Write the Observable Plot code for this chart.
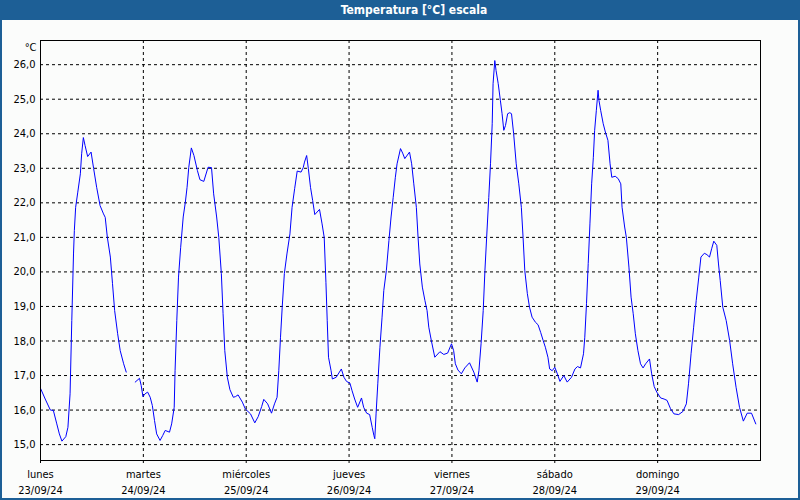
<!DOCTYPE html>
<html>
<head>
<meta charset="utf-8">
<script src="https://cdn.jsdelivr.net/npm/d3@7"></script>
<script src="https://cdn.jsdelivr.net/npm/@observablehq/plot@0.6"></script>
<style>
  html, body { margin: 0; padding: 0; background: #fbfcfb; }
  #wrap { position: relative; width: 800px; height: 500px; background: #fbfcfb; overflow: hidden; }
  #title { position: absolute; left: 0; top: 0; width: 800px; height: 20px; background: #1d5f96; color: #fff;
           font: bold 12px "DejaVu Sans Condensed", "Liberation Sans", sans-serif; line-height: 20px; text-align: center;
           box-sizing: border-box; padding-left: 28px; }
  #chart { position: absolute; left: 0; top: 20px; }
  .b { position: absolute; background: #1d5f96; }
</style>
</head>
<body>
<div id="wrap">
  <div id="title">Temperatura [°C] escala</div>
  <div id="chart"></div>
  <div class="b" style="left:0;top:20px;width:2px;height:480px"></div>
  <div class="b" style="right:0;top:20px;width:2px;height:480px"></div>
  <div class="b" style="left:0;bottom:0;width:800px;height:2px"></div>
</div>
<script>
// Hours since Monday 23/09/24 00:00
const hours = [
  0, 1.1, 2.3, 3, 3.8, 4.4, 5, 5.9, 6.4, 6.9, 7.3, 7.7, 7.9, 8.2, 8.7, 9.3, 9.6, 10.0, 10.4, 11, 11.8, 12.4, 13.1, 13.9,
  14.7, 15.1, 15.6, 16.3, 16.8, 17.3, 18, 18.6, 19.4, 20, 21, 22.1, 23.1, 23.5, 23.9,
  24.4, 25.0, 25.6, 26.1, 26.6, 27.1, 27.9, 28.5, 29.1, 30.1, 30.6, 31.2, 31.4, 31.8, 32.2, 32.7, 33.3, 33.8, 34.2,
  34.6, 35.2, 35.8, 36.6, 37.2, 38.1, 39.1, 39.9, 40.4, 41.1, 41.6, 42.2, 42.6, 43.0, 43.6, 44.2, 45, 45.5, 46.1, 47.1, 47.8,
  49, 50, 50.8, 51.6, 52.1, 53.0, 53.9, 54.6, 55.2, 55.6, 56, 56.4, 56.9, 57.5, 58.2, 58.7, 59.3, 59.9, 60.8, 61.3, 61.6,
  62.1, 62.5, 63, 63.5, 64.0, 65.1, 65.7, 66.2, 66.6, 66.9, 67.2, 67.8, 68.1, 69, 70.2, 70.8, 71.4,
  72.2, 72.7, 73.3, 74.0, 74.9, 75.4, 76.1, 76.8, 77.4, 77.8, 78.0, 78.3, 78.7, 79.2, 79.7, 80.1, 80.7, 81.3, 81.8, 82.3,
  82.8, 83.2, 84, 84.5, 85, 86.1, 86.6, 87.1, 87.7, 88.1, 88.5, 89.1, 89.7, 90.2, 90.6, 91.2, 92, 93.2, 94.1, 95, 95.9,
  96.4, 96.8, 97.4, 98.2, 99, 100.1, 101.1, 101.9, 102.3, 102.8, 103.3, 103.7, 104.1, 104.6, 105, 105.4, 105.6, 106,
  106.3, 106.8, 107.3, 107.7, 108.1, 108.5, 109, 109.5, 109.9, 110.4, 111, 111.6, 112.2, 112.6, 113, 113.6, 114.1, 114.7,
  115.5, 116.1, 116.7, 117.3, 117.8, 118.4, 118.8, 119.4,
  120, 120.6, 121.2, 122.1, 122.9, 123.9, 124.7, 125.3, 126, 126.7, 127, 127.4, 127.8, 128.2, 128.6, 129, 129.3, 129.7,
  130.1, 130.3, 130.7, 131.3, 131.8, 132.4, 132.9, 133.3, 134.1, 134.8, 135.4, 135.7, 136.3, 136.7, 137.3, 137.8, 138.3,
  138.8, 139.4, 140, 140.6, 141.2, 142.1, 142.6, 143.2, 143.8,
  144.7, 145.5, 146.2, 147, 147.8, 148.9, 149.9, 150.7, 151.2, 151.8, 152.4, 153, 153.6, 154.1, 154.9, 155.5, 156.1,
  156.6, 157.1, 157.8, 158.2, 158.6, 159.2, 160, 160.8, 161.5, 162.3, 163.1, 164, 164.9, 165.9, 166.9
];
const temps = [
  16.63, 16.32, 16.0, 15.99, 15.60, 15.31, 15.10, 15.23, 15.50, 16.47, 18.59, 20.52, 21.2, 21.87, 22.31, 22.84, 23.42, 23.89, 23.66, 23.34, 23.47, 22.99, 22.45, 21.92,
  21.68, 21.58, 21.0, 20.43, 19.66, 18.88, 18.21, 17.72, 17.34, 17.10, null, 16.81, 16.92, 16.71, 16.39,
  16.47, 16.52, 16.37, 16.13, 15.70, 15.31, 15.12, 15.26, 15.41, 15.36, 15.60, 16.08, 17.14, 18.59, 19.85, 20.7, 21.59, 22.02, 22.45,
  23.03, 23.59, 23.37, 22.94, 22.67, 22.62, 23.03, 23.02, 22.26, 21.59, 21.0, 19.95, 18.79, 17.72, 16.95, 16.59, 16.37, 16.39, 16.44, 16.23, 16.03,
  15.89, 15.63, 15.81, 16.10, 16.31, 16.18, 15.91, 16.18, 16.37, 17.14, 18.11, 18.98, 19.95, 20.52, 21.10, 21.87, 22.41, 22.92, 22.89, 23.02, 23.18,
  23.37, 22.99, 22.45, 22.07, 21.66, 21.81, 21.39, 21.0, 19.7, 18.6, 17.53, 17.14, 16.90, 16.95, 17.19, 16.95, 16.83,
  16.78, 16.56, 16.32, 16.08, 16.35, 16.08, 15.91, 15.87, 15.50, 15.26, 15.17, 15.89, 16.76, 17.82, 18.69, 19.46, 20.04, 20.91, 21.59, 22.16,
  22.74, 23.13, 23.57, 23.44, 23.28, 23.47, 23.13, 22.55, 21.87, 21.0, 20.23, 19.56, 19.17, 18.88, 18.40, 18.01, 17.53, 17.69, 17.61, 17.65, 17.92,
  17.72, 17.34, 17.16, 17.05, 17.22, 17.37, 17.10, 16.81, 17.14, 17.92, 18.88, 20.04, 21.0, 22.16, 23.13, 24.29, 25.45, 26.12,
  25.83, 25.45, 24.97, 24.58, 24.10, 24.24, 24.58, 24.61, 24.58, 24.0, 23.13, 22.55, 21.87, 21.0, 20.04, 19.37, 18.98, 18.69,
  18.54, 18.47, 18.25, 18.01, 17.82, 17.53, 17.19, 17.14,
  17.24, 17.05, 16.83, 17.0, 16.81, 16.95, 17.19, 17.26, 17.22, 17.63, 18.11, 19.08, 20.24, 21.39, 22.55, 23.32, 24.10, 24.68,
  25.26, 24.97, 24.68, 24.29, 24.05, 23.81, 23.13, 22.74, 22.77, 22.70, 22.55, 21.87, 21.30, 21.0, 20.14, 19.27, 18.79,
  18.21, 17.72, 17.34, 17.22, 17.34, 17.48, 17.05, 16.68, 16.52,
  16.35, 16.32, 16.28, 16.04, 15.89, 15.87, 15.96, 16.18, 16.76, 17.63, 18.40, 19.17, 19.85, 20.43, 20.54, 20.50, 20.43,
  20.67, 20.89, 20.77, 20.23, 19.75, 18.98, 18.59, 18.01, 17.34, 16.66, 16.08, 15.68, 15.91, 15.91, 15.60
];
const dayNames = ["lunes", "martes", "miércoles", "jueves", "viernes", "sábado", "domingo"];
const dayDates = ["23/09/24", "24/09/24", "25/09/24", "26/09/24", "27/09/24", "28/09/24", "29/09/24"];
const dayTicks = [0, 24, 48, 72, 96, 120, 144];
const yTicks = [15, 16, 17, 18, 19, 20, 21, 22, 23, 24, 25, 26];

const data = hours.map((h, i) => ({h, t: temps[i]}));
const font = '"DejaVu Sans Condensed", "Liberation Sans", sans-serif';

const chart = Plot.plot({
  width: 800,
  height: 480,
  marginLeft: 40,
  marginRight: 40,
  marginTop: 20,
  marginBottom: 40,
  style: {fontFamily: font, fontSize: "11px", color: "#000", background: "transparent", overflow: "visible"},
  x: {domain: [0, 168], label: null},
  y: {domain: [14.54, 26.70], label: null},
  marks: [
    Plot.ruleY(yTicks, {stroke: "#000", strokeDasharray: "3,3", strokeWidth: 1}),
    Plot.ruleX(dayTicks.slice(1), {stroke: "#000", strokeDasharray: "3,3", strokeWidth: 1}),
    Plot.line(data, {x: "h", y: "t", stroke: "#0000ff", strokeWidth: 1}),
    Plot.frame({stroke: "#000", strokeWidth: 1}),
    Plot.axisY(yTicks, {tickSize: 0, tickPadding: 5, label: null,
      tickFormat: d => d.toFixed(1).replace(".", ",")}),
    Plot.axisX(dayTicks, {tickSize: 3, tickPadding: 4, label: null, lineHeight: 1.4,
      tickFormat: d => dayNames[d / 24] + "\n" + dayDates[d / 24]}),
    Plot.text(["°C"], {text: d => d, frameAnchor: "top-left", dx: -4, dy: 3, textAnchor: "end"})
  ]
});
document.getElementById("chart").appendChild(chart);
</script>
</body>
</html>
